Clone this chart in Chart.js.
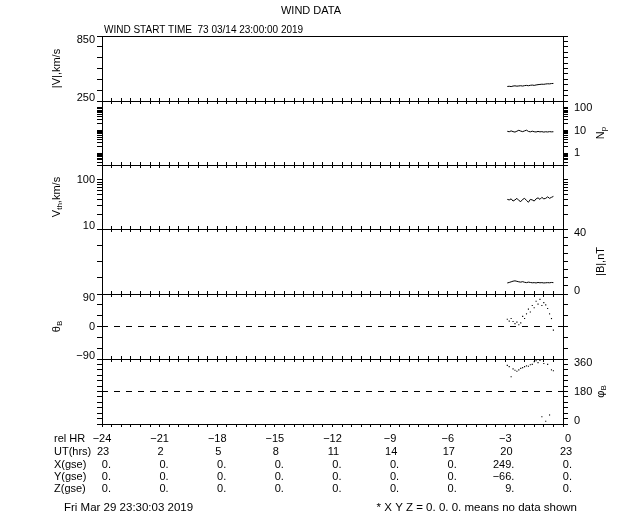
<!DOCTYPE html>
<html>
<head>
<meta charset="utf-8">
<title>WIND DATA</title>
<script src="https://cdn.jsdelivr.net/npm/chart.js@4.4.1/dist/chart.umd.min.js"></script>
<style>
  html, body { margin: 0; padding: 0; background: #fff; }
  #wrap { position: relative; width: 640px; height: 512px; }
  #wrap canvas { position: absolute; left: 0; top: 0; }
</style>
</head>
<body>
<div id="wrap">
  <canvas id="p0" width="640" height="512"></canvas>
  <canvas id="p1" width="640" height="512"></canvas>
  <canvas id="p2" width="640" height="512"></canvas>
  <canvas id="p3" width="640" height="512"></canvas>
  <canvas id="p4" width="640" height="512"></canvas>
  <canvas id="p5" width="640" height="512"></canvas>
</div>
<script>
// bottom table (relative hours, UT and GSE position)
const relHours = [-24, -21, -18, -15, -12, -9, -6, -3, 0];
const relLabels = ['−24', '−21', '−18', '−15', '−12', '−9', '−6', '−3', '0'];
const utLabels = ['23', '2', '5', '8', '11', '14', '17', '20', '23'];
const xGse = ['0.', '0.', '0.', '0.', '0.', '0.', '0.', '249.', '0.'];
const yGse = ['0.', '0.', '0.', '0.', '0.', '0.', '0.', '−66.', '0.'];
const zGse = ['0.', '0.', '0.', '0.', '0.', '0.', '0.', '9.', '0.'];

// samples (hours relative to end)
const sampleHours = [-2.9, -2.8, -2.7, -2.6, -2.5, -2.4, -2.3, -2.2, -2.1, -2.0, -1.9, -1.8, -1.7,
                     -1.6, -1.5, -1.4, -1.3, -1.2, -1.1, -1.0, -0.9, -0.8, -0.7, -0.6, -0.5];
const speed = [384, 386, 383, 388, 390, 387, 389, 391, 388, 392, 394, 391, 395, 397, 394, 398, 401,
               403, 405, 404, 407, 409, 408, 411, 412];
const density = [9.2, 8.8, 9.6, 8.9, 8.5, 9.3, 10.2, 9.4, 8.9, 9.6, 10.3, 9.1, 8.7, 9.3, 8.8, 8.6,
                 9.1, 8.7, 8.9, 8.5, 8.8, 8.6, 8.9, 8.7, 8.8];
const thermalSpeed = [40, 39, 41, 37, 39, 42, 38, 36, 40, 42, 38, 35, 40, 39, 37, 41, 43, 40, 44, 41,
                      42, 45, 42, 44, 46];
const fieldMag = [6.8, 7.1, 7.5, 7.9, 8.1, 7.8, 7.5, 7.3, 7.6, 7.2, 7.0, 7.3, 7.1, 6.9, 7.0, 6.8, 7.1,
                  6.9, 7.0, 6.8, 6.9, 7.0, 6.9, 7.1, 7.0];
const thetaB = [20, 15, 22, 14, 8, 12, 5, 10, 28, 22, 35, 48, 40, 58, 52, 70, 62, 75, 58, 66, 60, 50,
                35, 22, -10];
const phiB = [325, 318, 262, 305, 298, 292, 300, 308, 312, 318, 322, 320, 328, 330, 345, 350, 340, 352,
              40, 335, 15, 330, 50, 300, 295];

// tick values
const hourTicks = [];
for (let h = -24; h <= 0; h += 0.5) hourTicks.push(h);
const speedTicksLeft = [250, 350, 450, 550, 650, 750, 850];
const speedTicksRight = [250, 300, 350, 400, 450, 500, 550, 600, 650, 700, 750, 800, 850];
const densityTicks = [0.3, 0.4, 0.5, 0.6, 0.7, 0.8, 0.9, 1, 2, 3, 4, 5, 6, 7, 8, 9,
                      10, 20, 30, 40, 50, 60, 70, 80, 90, 100, 200];
const vthTicks = [10, 20, 30, 40, 50, 60, 70, 80, 90, 100, 200];
const bTicksLeft = [0, 10, 20, 30, 40];
const bTicksRight = [0, 5, 10, 15, 20, 25, 30, 35, 40];
const thetaTicks = [-90, -60, -30, 0, 30, 60, 90];
const phiTicks = [0, 30, 60, 90, 120, 150, 180, 210, 240, 270, 300, 330, 360];

const panelEdges = [36, 101, 165, 229, 294, 359, 424];
const FONT = '"Liberation Sans", Arial, sans-serif';

function pts(ys) {
    return sampleHours.map((h, i) => ({ x: h, y: ys[i] }));
}

function lineSet(ys) {
    return { data: pts(ys), showLine: true, borderColor: '#000', borderWidth: 1, pointRadius: 0 };
}

function dotSet(ys) {
    return { data: pts(ys), showLine: false, pointStyle: 'rect', pointRadius: 0.8,
             backgroundColor: '#000', borderWidth: 0 };
}

function dashSet(v) {
    return { data: [{ x: -24, y: v }, { x: 0, y: v }], showLine: true, borderColor: '#000',
             borderWidth: 1, borderDash: [6, 6], pointRadius: 0 };
}

function yAxis(type, min, max, ticks, pos, width) {
    return {
        type: type, position: pos, min: min, max: max,
        afterBuildTicks: s => { s.ticks = ticks.map(v => ({ value: v })); },
        afterFit: s => { s.width = width; },
        ticks: { display: false },
        grid: { display: true, drawOnChartArea: false, drawTicks: true, tickLength: 5,
                color: '#000', tickColor: '#000' },
        border: { display: true, color: '#000' }
    };
}

function xAxis(pos, withTicks) {
    return {
        type: 'linear', position: pos, min: -24, max: 0,
        afterBuildTicks: s => { s.ticks = hourTicks.map(v => ({ value: v })); },
        afterFit: s => { s.height = 0; },
        ticks: { display: false },
        grid: { display: withTicks, drawOnChartArea: false, drawTicks: true, tickLength: 3,
                color: '#000', tickColor: '#000' },
        border: { display: true, color: '#000' }
    };
}

function drawTitle(ctx, x, y, parts) {
    const big = '11px ' + FONT, small = '8px ' + FONT;
    let total = 0;
    parts.forEach(p => { ctx.font = p.sub ? small : big; total += ctx.measureText(p.t).width; });
    ctx.save();
    ctx.translate(x, y);
    ctx.rotate(-Math.PI / 2);
    ctx.textBaseline = 'middle';
    ctx.textAlign = 'left';
    let cx = -total / 2;
    parts.forEach(p => {
        ctx.font = p.sub ? small : big;
        ctx.fillText(p.t, cx, p.sub ? 3 : 0);
        cx += ctx.measureText(p.t).width;
    });
    ctx.restore();
}

const panelText = {
    id: 'panelText',
    afterDraw(chart, args, o) {
        const ctx = chart.ctx, a = chart.chartArea;
        ctx.save();
        ctx.fillStyle = '#000';
        ctx.font = '11px ' + FONT;
        ctx.textBaseline = 'middle';
        const place = (scale, v) => Math.min(Math.max(scale.getPixelForValue(v), a.top + 4), a.bottom - 3);
        ctx.textAlign = 'right';
        (o.left || []).forEach(([v, t]) => ctx.fillText(t, a.left - 7, place(chart.scales.y, v)));
        ctx.textAlign = 'left';
        (o.right || []).forEach(([v, t]) => ctx.fillText(t, a.right + 11, place(chart.scales.y2, v)));
        if (o.leftTitle) drawTitle(ctx, 57, (a.top + a.bottom) / 2, o.leftTitle);
        if (o.rightTitle) drawTitle(ctx, 601, (a.top + a.bottom) / 2, o.rightTitle);
        ctx.restore();
    }
};

const pageText = {
    id: 'pageText',
    afterDraw(chart) {
        const ctx = chart.ctx, x = chart.scales.x;
        ctx.save();
        ctx.fillStyle = '#000';
        ctx.textBaseline = 'middle';
        ctx.font = '11px ' + FONT;
        ctx.textAlign = 'center';
        ctx.fillText('WIND DATA', 311, 11);
        ctx.textAlign = 'left';
        ctx.font = '10px ' + FONT;
        ctx.fillText('WIND START TIME  73 03/14 23:00:00 2019', 104, 30);
        ctx.font = '11px ' + FONT;
        const rows = [['rel HR', 439], ['UT(hrs)', 452], ['X(gse)', 465], ['Y(gse)', 477], ['Z(gse)', 489]];
        rows.forEach(([t, y]) => ctx.fillText(t, 54, y));
        ctx.textAlign = 'center';
        relHours.forEach((h, i) => {
            const px = x.getPixelForValue(h);
            ctx.fillText(relLabels[i], px + (i === relHours.length - 1 ? 5 : 0), 439);
            ctx.fillText(utLabels[i], px + (i === relHours.length - 1 ? 3 : 1), 452);
        });
        ctx.textAlign = 'right';
        relHours.forEach((h, i) => {
            const px = x.getPixelForValue(h) + 9;
            ctx.fillText(xGse[i], px, 465);
            ctx.fillText(yGse[i], px, 477);
            ctx.fillText(zGse[i], px, 489);
        });
        ctx.font = '11.5px ' + FONT;
        ctx.textAlign = 'left';
        ctx.fillText('Fri Mar 29 23:30:03 2019', 64, 508);
        ctx.textAlign = 'right';
        ctx.fillText('* X Y Z = 0. 0. 0. means no data shown', 577, 508);
        ctx.restore();
    }
};

const panels = [
    {
        datasets: [lineSet(speed)],
        y: yAxis('linear', 250, 850, speedTicksLeft, 'left', 102),
        y2: yAxis('linear', 250, 850, speedTicksRight, 'right', 77),
        text: { left: [[850, '850'], [250, '250']],
                leftTitle: [{ t: '|V|,km/s' }] }
    },
    {
        datasets: [lineSet(density)],
        y: yAxis('logarithmic', 0.3, 200, densityTicks, 'left', 102),
        y2: yAxis('logarithmic', 0.3, 200, densityTicks, 'right', 77),
        text: { right: [[100, '100'], [10, '10'], [1, '1']],
                rightTitle: [{ t: 'N' }, { t: 'p', sub: true }] }
    },
    {
        datasets: [lineSet(thermalSpeed)],
        y: yAxis('logarithmic', 10, 200, vthTicks, 'left', 102),
        y2: yAxis('logarithmic', 10, 200, vthTicks, 'right', 77),
        text: { left: [[100, '100'], [10, '10']],
                leftTitle: [{ t: 'V' }, { t: 'th', sub: true }, { t: ',km/s' }] }
    },
    {
        datasets: [lineSet(fieldMag)],
        y: yAxis('linear', 0, 40, bTicksLeft, 'left', 102),
        y2: yAxis('linear', 0, 40, bTicksRight, 'right', 77),
        text: { right: [[40, '40'], [0, '0']],
                rightTitle: [{ t: '|B|,nT' }] }
    },
    {
        datasets: [dashSet(0), dotSet(thetaB)],
        y: yAxis('linear', -90, 90, thetaTicks, 'left', 102),
        y2: yAxis('linear', -90, 90, thetaTicks, 'right', 77),
        text: { left: [[90, '90'], [0, '0'], [-90, '−90']],
                leftTitle: [{ t: 'θ' }, { t: 'B', sub: true }] }
    },
    {
        datasets: [dashSet(180), dotSet(phiB)],
        y: yAxis('linear', 0, 360, phiTicks, 'left', 102),
        y2: yAxis('linear', 0, 360, phiTicks, 'right', 77),
        text: { right: [[360, '360'], [180, '180'], [0, '0']],
                rightTitle: [{ t: 'φ' }, { t: 'B', sub: true }] }
    }
];

panels.forEach((p, i) => {
    p.datasets.forEach(d => { d.yAxisID = 'y'; });
    const plugins = [panelText];
    if (i === panels.length - 1) plugins.push(pageText);
    new Chart(document.getElementById('p' + i), {
        type: 'scatter',
        data: { datasets: p.datasets },
        options: {
            responsive: false,
            animation: false,
            events: [],
            layout: { padding: { top: panelEdges[i], bottom: 512 - panelEdges[i + 1], left: 0, right: 0 } },
            scales: {
                x: xAxis('bottom', true),
                x2: xAxis('top', i > 0),
                y: p.y,
                y2: p.y2
            },
            plugins: { legend: { display: false }, tooltip: { enabled: false }, panelText: p.text }
        },
        plugins: plugins
    });
});
</script>
</body>
</html>
